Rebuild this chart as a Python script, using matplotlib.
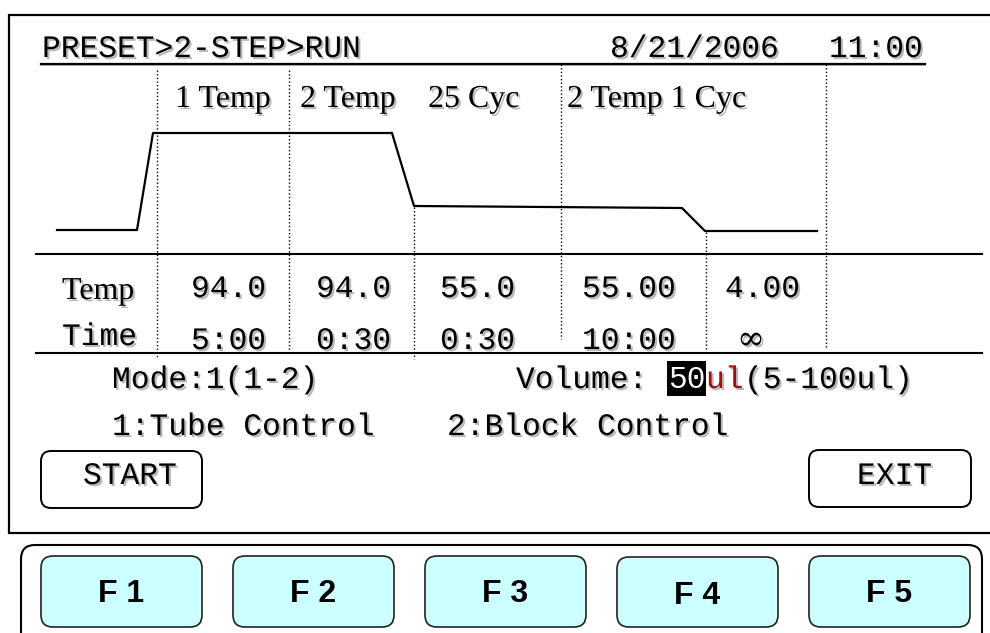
import matplotlib
matplotlib.use("Agg")
import matplotlib.pyplot as plt
import matplotlib.patheffects as pe
from matplotlib.patches import FancyBboxPatch, Rectangle

# screen text / values
header = "PRESET>2-STEP>RUN"
date_str = "8/21/2006"
clock_str = "11:00"
segment_labels = ["1 Temp", "2 Temp", "25 Cyc", "2 Temp 1 Cyc"]
temps = ["94.0", "94.0", "55.0", "55.00", "4.00"]
times = ["5:00", "0:30", "0:30", "10:00", "\u221e"]
keys = ["F 1", "F 2", "F 3", "F 4", "F 5"]

# schematic temperature profile (screen pixels)
profile_x = [57, 137, 153, 392, 414, 682, 705, 817]
profile_y = [230, 230, 133, 133, 206, 208, 231, 231]

# dotted step dividers: x, top, bottom
div_x = [157, 289, 414, 561, 706, 826]
div_top = [70, 70, 207, 64, 232, 64]
div_bot = [357, 351, 359, 339, 351, 349]

seg_x = [175, 300, 428, 567]
col_x = [191, 316, 440, 582, 725]
key_x = [41, 233, 425, 617, 809]

MONO = "Liberation Mono"
SERIF = "Liberation Serif"
SANS = "Liberation Sans"
FS = 22.5
shadow = [pe.SimplePatchShadow(offset=(1.5, -1.5), shadow_rgbFace="#9a9a9a", alpha=0.7), pe.Normal()]

fig = plt.figure(figsize=(9.9, 6.33), dpi=100)
ax = fig.add_axes([0, 0, 1, 1])
ax.set_xlim(0, 990)
ax.set_ylim(633, 0)
ax.axis("off")


def txt(x, y, s, family=MONO, size=FS, color="black", **kw):
    ax.text(x, y, s, family=family, fontsize=size, color=color, ha="left",
            va="baseline", path_effects=shadow, **kw)


def rbox(x0, y0, x1, y1, r, fc="white", ec="black", lw=1.4):
    ax.add_patch(FancyBboxPatch((x0, y0), x1 - x0, y1 - y0,
                                boxstyle=f"round,pad=0,rounding_size={r}",
                                fc=fc, ec=ec, lw=lw))


# screen frame
ax.add_patch(Rectangle((9, 15), 990, 518, fc="white", ec="black", lw=1.6))

# header
txt(42, 57, header)
txt(610, 57, date_str)
txt(829, 57, clock_str)
ax.plot([41, 925], [65, 65], color="#bbbbbb", lw=1.5)
ax.plot([41, 925], [63.5, 63.5], color="black", lw=1.6)

# profile + dividers
ax.plot(profile_x, profile_y, color="black", lw=1.6)
for x, t, b in zip(div_x, div_top, div_bot):
    ax.plot([x, x], [t, b], color="black", lw=1.0, linestyle=(0, (1, 1.6)))
for x, s in zip(seg_x, segment_labels):
    txt(x, 107, s, family=SERIF, size=23)

# table
ax.plot([36, 982], [254, 254], color="black", lw=1.5)
ax.plot([36, 982], [353, 353], color="black", lw=1.5)
txt(62, 299, "Temp", family=SERIF, size=23)
txt(62, 345, "Time")
for x, s in zip(col_x, temps):
    txt(x, 297, s)
for x, s in zip(col_x, times):
    if s == "\u221e":
        ax.text(x + 26, 340, s, family="DejaVu Serif", fontsize=24, ha="center",
                va="center", path_effects=shadow)
    else:
        txt(x, 349, s)

# mode / volume
txt(112, 388, "Mode:1(1-2)")
txt(516, 388, "Volume:")
ax.add_patch(Rectangle((667, 361), 39, 35, fc="black", ec="none"))
ax.text(668, 388, "50", family=MONO, fontsize=FS, color="white", ha="left", va="baseline")
txt(706, 388, "ul", color="#a01010")
txt(744, 388, "(5-100ul)")
txt(112, 435, "1:Tube Control")
txt(447, 435, "2:Block Control")

# START / EXIT
rbox(41, 451, 202, 508, 10)
rbox(809, 450, 971, 507, 10)
txt(83, 484, "START")
txt(857, 484, "EXIT")

# keypad
rbox(21, 545, 982, 660, 14, lw=1.5)
for i, (x, k) in enumerate(zip(key_x, keys)):
    top = 557 if i == 3 else 556
    rbox(x, top, x + 161, 627, 12, fc="#ccffff", ec="#222222", lw=1.2)
    ax.text(x + 80.5, 602 + (2 if i == 3 else 0), k, family=SANS, fontsize=23,
            weight="bold", ha="center", va="baseline")

fig.savefig("out.png", dpi=100)
